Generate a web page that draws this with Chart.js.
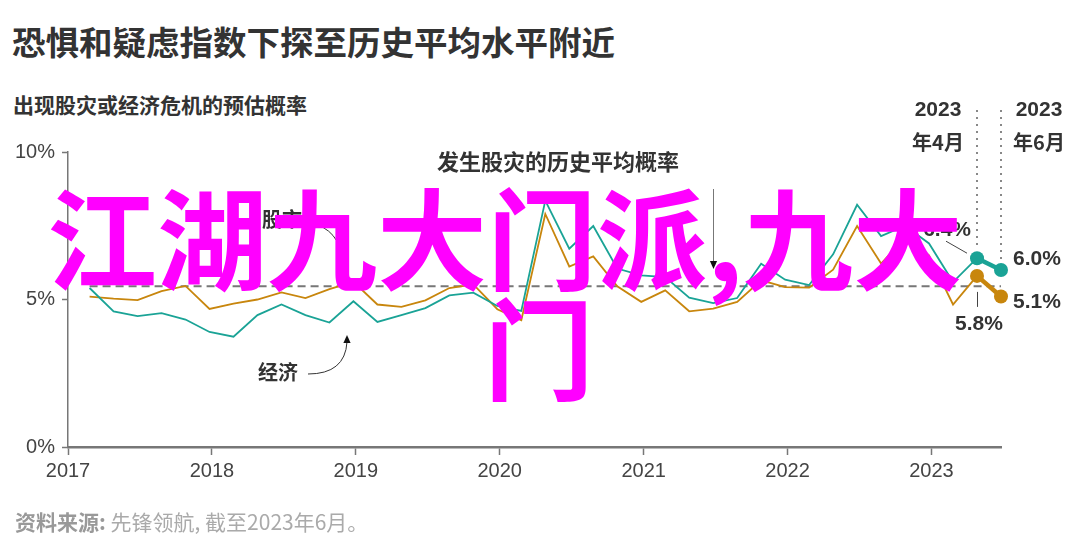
<!DOCTYPE html>
<html>
<head>
    <meta charset="UTF-8">
    <title>恐惧和疑虑指数下探至历史平均水平附近</title>
    <script src="https://cdn.jsdelivr.net/npm/chart.js"></script>
    <style>
        body {
            margin: 0;
            background: #fff;
            width: 1080px;
            height: 558px;
            overflow: hidden;
            position: relative;
            font-family: "Noto Sans CJK SC", sans-serif;
        }
        .txt {
            position: absolute;
            line-height: 1;
            white-space: nowrap;
        }
        .title { left: 12px; top: 24px; font-size: 33.5px; font-weight: 700; color: #333; }
        .subtitle { left: 13px; top: 94px; font-size: 21px; font-weight: 700; color: #333; }
        .source { left: 15px; top: 511px; font-size: 21px; color: #aaa; }
        .source b { color: #999; }
        .overlay { color: #ff00ff; font-size: 110px; font-weight: 700; z-index: 5; }
        #wrap { position: absolute; left: 0; top: 0; width: 1080px; height: 558px; }
    </style>
</head>
<body>
    <div class="txt title">恐惧和疑虑指数下探至历史平均水平附近</div>
    <div class="txt subtitle">出现股灾或经济危机的预估概率</div>
    <div id="wrap"><canvas id="chart" width="1080" height="558"></canvas></div>
    <div class="txt source"><b>资料来源:</b> 先锋领航, 截至2023年6月。</div>
    <div class="txt overlay" style="left:47px; top:179px;">江湖九大门派,九大</div>
    <div class="txt overlay" style="left:484px; top:289px;">门</div>

    <script>
        // bimonthly readings, Feb 2017 - Apr 2023
        var dates = [
            '2017-02', '2017-04', '2017-06', '2017-08', '2017-10', '2017-12',
            '2018-02', '2018-04', '2018-06', '2018-08', '2018-10', '2018-12',
            '2019-02', '2019-04', '2019-06', '2019-08', '2019-10', '2019-12',
            '2020-02', '2020-04', '2020-06', '2020-08', '2020-10', '2020-12',
            '2021-02', '2021-04', '2021-06', '2021-08', '2021-10', '2021-12',
            '2022-02', '2022-04', '2022-06', '2022-08', '2022-10', '2022-12',
            '2023-02', '2023-04'
        ];
        var economy = [5.39, 4.60, 4.44, 4.54, 4.32, 3.90, 3.74, 4.47, 4.83, 4.47, 4.22, 4.94,
            4.24, 4.47, 4.71, 5.14, 5.23, 4.78, 4.61, 8.35, 6.72, 7.49, 6.05, 5.82,
            5.76, 5.06, 4.88, 5.05, 6.21, 5.67, 5.49, 6.53, 8.21, 7.15, 7.5, 6.9, 5.59, 6.4];
        var stocks = [5.10, 5.03, 4.98, 5.28, 5.46, 4.68, 4.86, 5.00, 5.24, 5.05, 5.35, 5.6,
            4.83, 4.75, 4.97, 5.39, 5.51, 4.67, 4.30, 7.90, 6.12, 6.46, 5.45, 4.92,
            5.31, 4.60, 4.69, 4.92, 5.65, 5.42, 5.40, 6.01, 7.49, 6.22, 7.1, 6.5, 4.83, 5.8];

        // highlighted latest readings
        var latestDates = ['2023-04', '2023-06'];
        var economyLatest = [6.4, 6.0];
        var stocksLatest = [5.8, 5.1];

        var avgRate = 5.45; // historical average probability of a stock crash
        var yearTicks = [2017, 2018, 2019, 2020, 2021, 2022, 2023];
        var yTicks = [0, 5, 10];

        var teal = '#1aa396';
        var orange = '#c8860d';

        function toYear(d) {
            var p = d.split('-');
            return Number(p[0]) + (Number(p[1]) - 0.2) / 12;
        }

        function pairs(ds, vals) {
            return ds.map(function (d, i) { return { x: toYear(d), y: vals[i] }; });
        }

        function arrowHead(ctx, x, y, angle, size) {
            ctx.save();
            ctx.translate(x, y);
            ctx.rotate(angle);
            ctx.beginPath();
            ctx.moveTo(0, 0);
            ctx.lineTo(-size, -size * 0.45);
            ctx.lineTo(-size, size * 0.45);
            ctx.closePath();
            ctx.fillStyle = '#111';
            ctx.fill();
            ctx.restore();
        }

        var avgLine = {
            id: 'avgLine',
            beforeDatasetsDraw: function (chart) {
                var ctx = chart.ctx;
                var xs = chart.scales.x, ys = chart.scales.y;
                var y = ys.getPixelForValue(avgRate);
                ctx.save();
                ctx.strokeStyle = '#777';
                ctx.lineWidth = 2;
                ctx.setLineDash([8, 5]);
                ctx.beginPath();
                ctx.moveTo(xs.getPixelForValue(toYear(dates[0])), y);
                ctx.lineTo(xs.getPixelForValue(toYear(latestDates[1])), y);
                ctx.stroke();
                ctx.restore();
            }
        };

        var notes = {
            id: 'notes',
            afterDraw: function (chart) {
                var ctx = chart.ctx;
                var xs = chart.scales.x, ys = chart.scales.y;
                var xA = xs.getPixelForValue(toYear(latestDates[0]));
                var xJ = xs.getPixelForValue(toYear(latestDates[1]));
                ctx.save();

                // dotted guides for the two latest months
                ctx.fillStyle = '#888';
                [[xA, ys.getPixelForValue(economyLatest[0]) - 10], [xJ, ys.getPixelForValue(economyLatest[1]) - 10]].forEach(function (g) {
                    for (var yy = 110; yy < g[1]; yy += 7) {
                        ctx.fillRect(Math.round(g[0]) - 1, yy, 2, 2);
                    }
                });

                ctx.fillStyle = '#333';
                ctx.textAlign = 'center';
                ctx.textBaseline = 'middle';
                ctx.font = 'bold 21px "Liberation Sans"';
                ctx.fillText('2023', xA - 39, 110);
                ctx.fillText('2023', xJ + 38, 110);
                ctx.font = 'bold 20px "Noto Sans CJK SC"';
                ctx.fillText('年4月', xA - 39, 142);
                ctx.fillText('年6月', xJ + 38, 142);

                // value labels
                ctx.font = 'bold 21px "Liberation Sans"';
                ctx.textAlign = 'left';
                ctx.fillText(economyLatest[1].toFixed(1) + '%', xJ + 12, ys.getPixelForValue(economyLatest[1]) - 11);
                ctx.fillText(stocksLatest[1].toFixed(1) + '%', xJ + 12, ys.getPixelForValue(stocksLatest[1]) + 6);
                ctx.textAlign = 'right';
                ctx.fillText(economyLatest[0].toFixed(1) + '%', xA - 6, ys.getPixelForValue(economyLatest[0]) - 28);
                ctx.textAlign = 'center';
                ctx.fillText(stocksLatest[0].toFixed(1) + '%', xA + 2, ys.getPixelForValue(stocksLatest[0]) + 48);

                // leader lines
                ctx.strokeStyle = '#444';
                ctx.lineWidth = 1;
                ctx.beginPath();
                var ya = ys.getPixelForValue(economyLatest[0]);
                ctx.moveTo(xA - 31, ya - 17);
                ctx.lineTo(xA - 10, ya - 5);
                var yb = ys.getPixelForValue(stocksLatest[0]);
                ctx.moveTo(xA + 0.5, yb + 16);
                ctx.lineTo(xA + 0.5, yb + 31);
                ctx.stroke();

                // series labels
                ctx.fillStyle = '#333';
                ctx.font = 'bold 20px "Noto Sans CJK SC"';
                ctx.textAlign = 'left';
                ctx.fillText('股市', 262, 219);
                ctx.fillText('经济', 258, 372);
                ctx.font = 'bold 22px "Noto Sans CJK SC"';
                ctx.fillText('发生股灾的历史平均概率', 437, 162);

                // arrows
                ctx.strokeStyle = '#333';
                ctx.lineWidth = 1;
                ctx.beginPath();
                ctx.moveTo(308, 374);
                ctx.quadraticCurveTo(345, 374, 347, 342);
                ctx.stroke();
                arrowHead(ctx, 347, 335, -Math.PI / 2, 8);

                ctx.beginPath();
                ctx.moveTo(312, 224);
                ctx.quadraticCurveTo(338, 228, 344, 262);
                ctx.stroke();
                arrowHead(ctx, 345, 270, Math.PI / 2, 8);

                ctx.strokeStyle = '#777';
                ctx.beginPath();
                ctx.moveTo(713.5, 189);
                ctx.lineTo(713.5, 262);
                ctx.stroke();
                arrowHead(ctx, 713.5, 269, Math.PI / 2, 8);

                ctx.restore();
            }
        };

        var ctx = document.getElementById('chart').getContext('2d');
        new Chart(ctx, {
            type: 'line',
            data: {
                datasets: [
                    { data: pairs(dates, economy), borderColor: teal, borderWidth: 1.8, pointRadius: 0, tension: 0 },
                    { data: pairs(dates, stocks), borderColor: orange, borderWidth: 1.8, pointRadius: 0, tension: 0 },
                    { data: pairs(latestDates, economyLatest), borderColor: teal, backgroundColor: teal, borderWidth: 4.5, pointRadius: 7, pointBorderWidth: 0, clip: false },
                    { data: pairs(latestDates, stocksLatest), borderColor: orange, backgroundColor: orange, borderWidth: 4.5, pointRadius: 7, pointBorderWidth: 0, clip: false }
                ]
            },
            options: {
                responsive: false,
                animation: false,
                events: [],
                layout: { padding: { left: 0, right: 79, top: 152, bottom: 71 } },
                plugins: { legend: { display: false }, tooltip: { enabled: false } },
                scales: {
                    x: {
                        type: 'linear',
                        min: 2017,
                        max: toYear(latestDates[1]),
                        afterBuildTicks: function (s) { s.ticks = yearTicks.map(function (v) { return { value: v }; }); },
                        afterFit: function (s) { s.height = 40; },
                        ticks: {
                            color: '#444',
                            font: { family: 'Liberation Sans', size: 20 },
                            padding: 4,
                            maxRotation: 0,
                            callback: function (v) { return String(v); }
                        },
                        grid: { drawOnChartArea: false, drawTicks: true, tickLength: 8, color: '#777', tickWidth: 1.5 },
                        border: { color: '#777', width: 2.5 }
                    },
                    y: {
                        min: 0,
                        max: 10,
                        afterBuildTicks: function (s) { s.ticks = yTicks.map(function (v) { return { value: v }; }); },
                        afterFit: function (s) { s.width = 68; },
                        ticks: {
                            color: '#444',
                            font: { family: 'Liberation Sans', size: 20 },
                            padding: 7,
                            callback: function (v) { return v + '%'; }
                        },
                        grid: { drawOnChartArea: false, drawTicks: true, tickLength: 6, color: '#777', tickWidth: 1.5 },
                        border: { color: '#777', width: 1.5 }
                    }
                }
            },
            plugins: [avgLine, notes]
        });
    </script>
</body>
</html>
